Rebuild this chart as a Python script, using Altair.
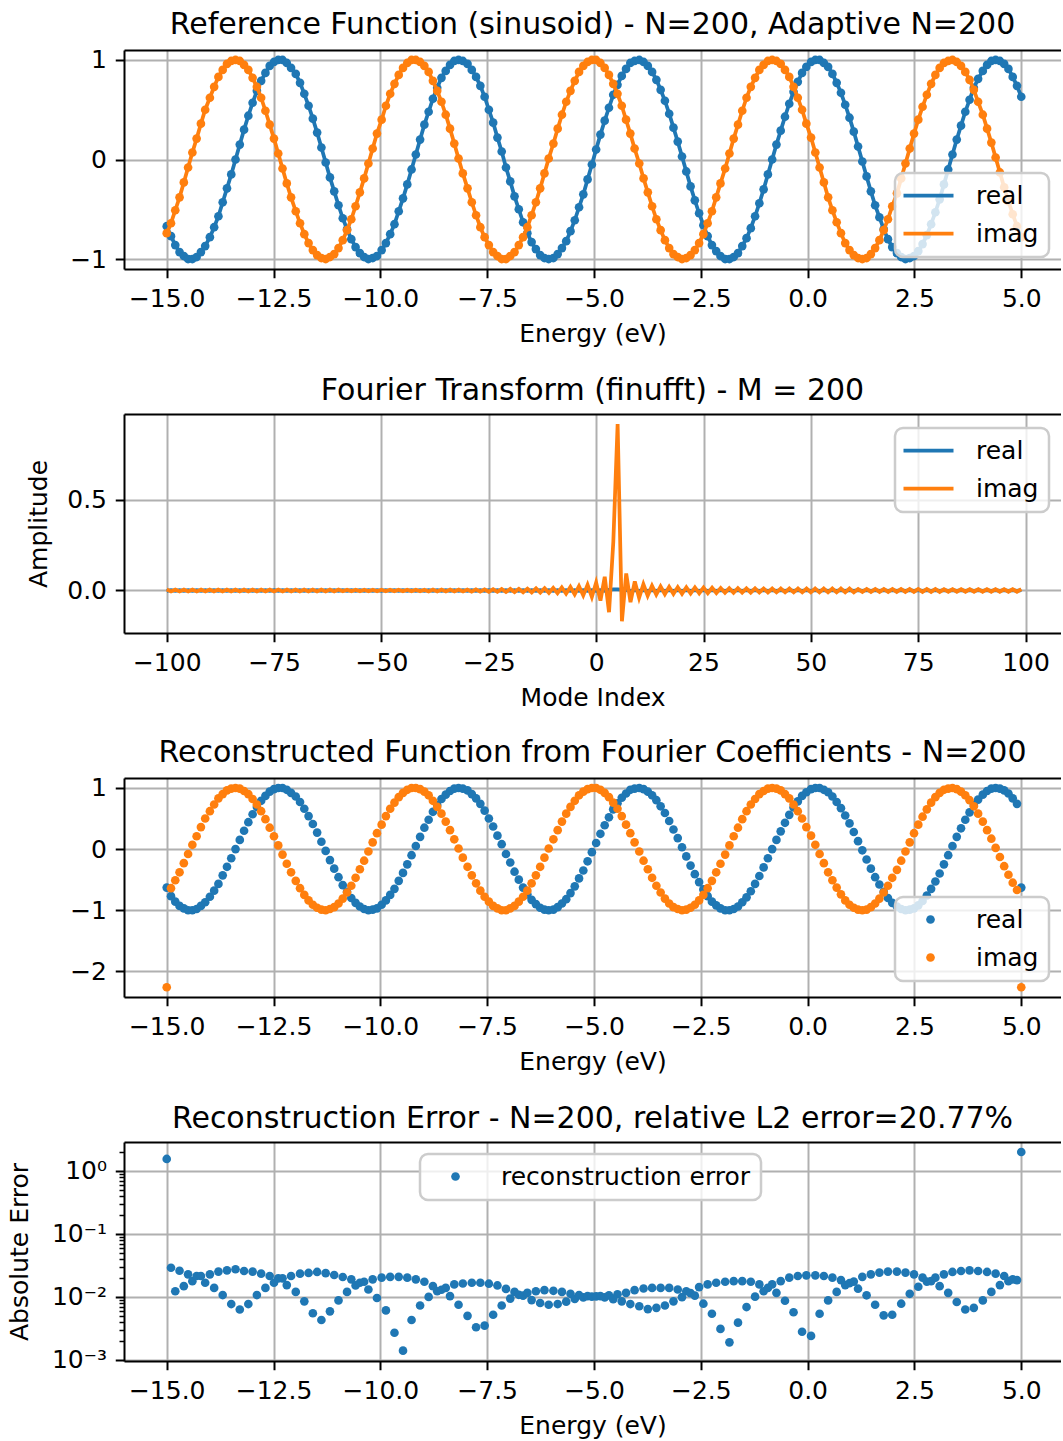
import altair as alt
import pandas as pd

FONT = "DejaVu Sans"
BLUE = "#1f77b4"
ORANGE = "#ff7f0e"

# ---------------- data ----------------
ENERGY = [
    -15.00, -14.90, -14.80, -14.70, -14.60, -14.50, -14.40, -14.30, -14.20, -14.10,
    -13.99, -13.89, -13.79, -13.69, -13.59, -13.49, -13.39, -13.29, -13.19, -13.09,
    -12.99, -12.89, -12.79, -12.69, -12.59, -12.49, -12.39, -12.29, -12.19, -12.09,
    -11.98, -11.88, -11.78, -11.68, -11.58, -11.48, -11.38, -11.28, -11.18, -11.08,
    -10.98, -10.88, -10.78, -10.68, -10.58, -10.48, -10.38, -10.28, -10.18, -10.08,
    -9.97, -9.87, -9.77, -9.67, -9.57, -9.47, -9.37, -9.27, -9.17, -9.07,
    -8.97, -8.87, -8.77, -8.67, -8.57, -8.47, -8.37, -8.27, -8.17, -8.07,
    -7.96, -7.86, -7.76, -7.66, -7.56, -7.46, -7.36, -7.26, -7.16, -7.06,
    -6.96, -6.86, -6.76, -6.66, -6.56, -6.46, -6.36, -6.26, -6.16, -6.06,
    -5.95, -5.85, -5.75, -5.65, -5.55, -5.45, -5.35, -5.25, -5.15, -5.05,
    -4.95, -4.85, -4.75, -4.65, -4.55, -4.45, -4.35, -4.25, -4.15, -4.05,
    -3.94, -3.84, -3.74, -3.64, -3.54, -3.44, -3.34, -3.24, -3.14, -3.04,
    -2.94, -2.84, -2.74, -2.64, -2.54, -2.44, -2.34, -2.24, -2.14, -2.04,
    -1.93, -1.83, -1.73, -1.63, -1.53, -1.43, -1.33, -1.23, -1.13, -1.03,
    -0.93, -0.83, -0.73, -0.63, -0.53, -0.43, -0.33, -0.23, -0.13, -0.03,
    0.08, 0.18, 0.28, 0.38, 0.48, 0.58, 0.68, 0.78, 0.88, 0.98,
    1.08, 1.18, 1.28, 1.38, 1.48, 1.58, 1.68, 1.78, 1.88, 1.98,
    2.09, 2.19, 2.29, 2.39, 2.49, 2.59, 2.69, 2.79, 2.89, 2.99,
    3.09, 3.19, 3.29, 3.39, 3.49, 3.59, 3.69, 3.79, 3.89, 3.99,
    4.10, 4.20, 4.30, 4.40, 4.50, 4.60, 4.70, 4.80, 4.90, 5.00,
]

REF_REAL = [
    -0.67, -0.77, -0.86, -0.93, -0.97, -1.00, -1.00, -0.98, -0.93, -0.87,
    -0.78, -0.68, -0.57, -0.43, -0.29, -0.15, 0.00, 0.15, 0.30, 0.44,
    0.57, 0.69, 0.79, 0.87, 0.94, 0.98, 1.00, 1.00, 0.97, 0.92,
    0.86, 0.77, 0.66, 0.54, 0.41, 0.27, 0.12, -0.03, -0.18, -0.32,
    -0.46, -0.59, -0.70, -0.80, -0.88, -0.94, -0.98, -1.00, -0.99, -0.97,
    -0.91, -0.84, -0.75, -0.65, -0.52, -0.39, -0.25, -0.10, 0.05, 0.20,
    0.35, 0.48, 0.61, 0.72, 0.82, 0.89, 0.95, 0.99, 1.00, 0.99,
    0.96, 0.90, 0.83, 0.74, 0.63, 0.50, 0.37, 0.22, 0.08, -0.08,
    -0.22, -0.37, -0.50, -0.63, -0.74, -0.83, -0.90, -0.96, -0.99, -1.00,
    -0.99, -0.95, -0.89, -0.82, -0.72, -0.61, -0.48, -0.35, -0.20, -0.05,
    0.10, 0.25, 0.39, 0.52, 0.65, 0.75, 0.84, 0.91, 0.97, 0.99,
    1.00, 0.98, 0.94, 0.88, 0.80, 0.70, 0.59, 0.46, 0.32, 0.18,
    0.03, -0.12, -0.27, -0.41, -0.54, -0.66, -0.77, -0.86, -0.92, -0.97,
    -1.00, -1.00, -0.98, -0.94, -0.87, -0.79, -0.69, -0.57, -0.44, -0.30,
    -0.15, 0.00, 0.15, 0.29, 0.43, 0.56, 0.68, 0.78, 0.87, 0.93,
    0.98, 1.00, 1.00, 0.97, 0.93, 0.86, 0.77, 0.67, 0.55, 0.42,
    0.28, 0.13, -0.02, -0.17, -0.32, -0.46, -0.58, -0.70, -0.80, -0.88,
    -0.94, -0.98, -1.00, -0.99, -0.97, -0.92, -0.85, -0.76, -0.65, -0.53,
    -0.40, -0.25, -0.10, 0.05, 0.20, 0.34, 0.48, 0.60, 0.72, 0.81,
    0.89, 0.95, 0.99, 1.00, 0.99, 0.96, 0.91, 0.83, 0.74, 0.63,
]

REF_IMAG = [
    -0.74, -0.64, -0.51, -0.38, -0.23, -0.08, 0.07, 0.21, 0.36, 0.50,
    0.62, 0.73, 0.83, 0.90, 0.96, 0.99, 1.00, 0.99, 0.95, 0.90,
    0.82, 0.73, 0.62, 0.49, 0.35, 0.21, 0.06, -0.09, -0.24, -0.38,
    -0.52, -0.64, -0.75, -0.84, -0.91, -0.96, -0.99, -1.00, -0.98, -0.95,
    -0.89, -0.81, -0.71, -0.60, -0.47, -0.33, -0.19, -0.04, 0.11, 0.26,
    0.40, 0.54, 0.66, 0.76, 0.85, 0.92, 0.97, 1.00, 1.00, 0.98,
    0.94, 0.88, 0.79, 0.69, 0.58, 0.45, 0.31, 0.16, 0.01, -0.14,
    -0.29, -0.43, -0.56, -0.68, -0.78, -0.86, -0.93, -0.97, -1.00, -1.00,
    -0.97, -0.93, -0.86, -0.78, -0.68, -0.56, -0.43, -0.29, -0.14, 0.01,
    0.16, 0.31, 0.45, 0.58, 0.69, 0.79, 0.88, 0.94, 0.98, 1.00,
    1.00, 0.97, 0.92, 0.85, 0.76, 0.66, 0.54, 0.40, 0.26, 0.11,
    -0.04, -0.19, -0.33, -0.47, -0.60, -0.71, -0.81, -0.89, -0.95, -0.98,
    -1.00, -0.99, -0.96, -0.91, -0.84, -0.75, -0.64, -0.52, -0.38, -0.24,
    -0.09, 0.06, 0.21, 0.35, 0.49, 0.62, 0.73, 0.82, 0.90, 0.95,
    0.99, 1.00, 0.99, 0.96, 0.90, 0.83, 0.73, 0.62, 0.50, 0.36,
    0.22, 0.07, -0.08, -0.23, -0.38, -0.51, -0.63, -0.74, -0.84, -0.91,
    -0.96, -0.99, -1.00, -0.99, -0.95, -0.89, -0.81, -0.71, -0.60, -0.47,
    -0.34, -0.19, -0.04, 0.11, 0.26, 0.40, 0.53, 0.65, 0.76, 0.85,
    0.92, 0.97, 0.99, 1.00, 0.98, 0.94, 0.88, 0.80, 0.70, 0.58,
    0.45, 0.31, 0.17, 0.02, -0.13, -0.28, -0.42, -0.55, -0.67, -0.78,
]

# reconstruction: same as the reference inside, wrong at both (periodic) ends
REC_REAL_ENDS = [-0.63, -0.63]
REC_IMAG_ENDS = [-2.26, -2.26]

MODE = [
    -100, -99, -98, -97, -96, -95, -94, -93, -92, -91, -90, -89, -88, -87, -86, -85, -84, -83, -82, -81,
    -80, -79, -78, -77, -76, -75, -74, -73, -72, -71, -70, -69, -68, -67, -66, -65, -64, -63, -62, -61,
    -60, -59, -58, -57, -56, -55, -54, -53, -52, -51, -50, -49, -48, -47, -46, -45, -44, -43, -42, -41,
    -40, -39, -38, -37, -36, -35, -34, -33, -32, -31, -30, -29, -28, -27, -26, -25, -24, -23, -22, -21,
    -20, -19, -18, -17, -16, -15, -14, -13, -12, -11, -10, -9, -8, -7, -6, -5, -4, -3, -2, -1,
    0, 1, 2, 3, 4, 5, 6, 7, 8, 9, 10, 11, 12, 13, 14, 15, 16, 17, 18, 19,
    20, 21, 22, 23, 24, 25, 26, 27, 28, 29, 30, 31, 32, 33, 34, 35, 36, 37, 38, 39,
    40, 41, 42, 43, 44, 45, 46, 47, 48, 49, 50, 51, 52, 53, 54, 55, 56, 57, 58, 59,
    60, 61, 62, 63, 64, 65, 66, 67, 68, 69, 70, 71, 72, 73, 74, 75, 76, 77, 78, 79,
    80, 81, 82, 83, 84, 85, 86, 87, 88, 89, 90, 91, 92, 93, 94, 95, 96, 97, 98, 99,
]

FT_IMAG = [
    0.005, -0.005, 0.005, -0.005, 0.005, -0.005, 0.005, -0.005, 0.005, -0.005,
    0.005, -0.005, 0.005, -0.005, 0.005, -0.005, 0.005, -0.005, 0.005, -0.005,
    0.005, -0.005, 0.005, -0.005, 0.005, -0.005, 0.005, -0.005, 0.005, -0.005,
    0.005, -0.005, 0.005, -0.005, 0.005, -0.005, 0.005, -0.005, 0.005, -0.005,
    0.005,
    -0.0045, 0.0045, -0.0045, 0.0045, -0.0045, 0.0045, -0.0045, 0.0045, -0.0045, 0.0045,
    -0.0045, 0.0045, -0.0045, 0.0045, -0.0045, 0.0045, -0.0045, 0.0045, -0.0045, 0.0045,
    -0.005, 0.005, -0.005, 0.005, -0.005, 0.005, -0.005, 0.005, -0.005, 0.005,
    -0.0062, 0.0062, -0.0062, 0.0062,
    -0.0070, 0.0073, -0.0076, 0.0079, -0.0082, 0.0085, -0.0089, 0.0092, -0.0097, 0.0101,
    -0.0106, 0.0112, -0.0118, 0.0125, -0.0133, 0.0142, -0.0153, 0.0165, -0.0179, 0.0195,
    -0.0215, 0.024, -0.027, 0.031, -0.036, 0.044, -0.056, 0.076, -0.12, 0.27,
    0.92, -0.17, 0.094, -0.065, 0.050, -0.040, 0.034, -0.029, 0.026, -0.023,
    0.022, -0.021, 0.020, -0.019, 0.0185, -0.018, 0.0175, -0.017, 0.0165, -0.016,
    0.016, -0.0152, 0.0146, -0.014, 0.0135, -0.013, 0.0128, -0.0125, 0.0122, -0.012,
    0.0118, -0.0116, 0.0114, -0.0112, 0.011, -0.011, 0.0105, -0.0105, 0.0105, -0.0105,
    0.0105, -0.0105, 0.0105, -0.0105, 0.0105, -0.0105, 0.0105, -0.0105, 0.0105, -0.0105,
    0.0105, -0.0105, 0.0105, -0.0105, 0.0105, -0.0105,
    0.008, -0.008, 0.008, -0.008, 0.008, -0.008, 0.008, -0.008, 0.008, -0.008,
    0.008, -0.008, 0.008, -0.008, 0.008, -0.008, 0.008, -0.008, 0.008, -0.008,
    0.007, -0.007, 0.007, -0.007, 0.007, -0.007, 0.007, -0.007, 0.007, -0.007,
    0.007, -0.007, 0.007, -0.007, 0.007, -0.007, 0.007, -0.007, 0.007,
]

FT_REAL = [
    -0.002, 0.002, -0.002, 0.002, -0.002, 0.002, -0.002, 0.002, -0.002, 0.002,
    -0.002, 0.002, -0.002, 0.002, -0.002, 0.002, -0.002, 0.002, -0.002, 0.002,
    -0.002, 0.002, -0.002, 0.002, -0.002, 0.002, -0.002, 0.002, -0.002, 0.002,
    -0.002, 0.002, -0.002, 0.002, -0.002, 0.002, -0.002, 0.002, -0.002, 0.002,
    -0.002, 0.002, -0.002, 0.002, -0.002, 0.002, -0.002, 0.002, -0.002, 0.002,
    -0.002, 0.002, -0.002, 0.002, -0.002, 0.002, -0.002, 0.002, -0.002, 0.002,
    -0.002, 0.002, -0.002, 0.002, -0.002, 0.002, -0.002, 0.002, -0.002, 0.002,
    -0.002, 0.002, -0.002, 0.002, -0.002, 0.002, -0.002, 0.002, -0.002, 0.002,
    -0.002, 0.002, -0.002, 0.002, -0.002, 0.002, -0.002, 0.002, -0.002, 0.002,
    -0.002, 0.002, -0.002, 0.002, -0.002, 0.002, -0.002, 0.002, -0.002, 0.002,
    -0.002, 0.002, -0.002, 0.004, 0.006, 0.006, 0.004, 0.002, -0.002, 0.002,
    -0.002, 0.002, -0.002, 0.002, -0.002, 0.002, -0.002, 0.002, -0.002, 0.002,
    -0.002, 0.002, -0.002, 0.002, -0.002, 0.002, -0.002, 0.002, -0.002, 0.002,
    -0.002, 0.002, -0.002, 0.002, -0.002, 0.002, -0.002, 0.002, -0.002, 0.002,
    -0.002, 0.002, -0.002, 0.002, -0.002, 0.002, -0.002, 0.002, -0.002, 0.002,
    -0.002, 0.002, -0.002, 0.002, -0.002, 0.002, -0.002, 0.002, -0.002, 0.002,
    -0.002, 0.002, -0.002, 0.002, -0.002, 0.002, -0.002, 0.002, -0.002, 0.002,
    -0.002, 0.002, -0.002, 0.002, -0.002, 0.002, -0.002, 0.002, -0.002, 0.002,
    -0.002, 0.002, -0.002, 0.002, -0.002, 0.002, -0.002, 0.002, -0.002, 0.002,
    -0.002, 0.002, -0.002, 0.002, -0.002, 0.002, -0.002, 0.002, -0.002, 0.002,
]

ERROR = [
    1.55, 0.029, 0.0123, 0.026, 0.0148, 0.0228, 0.0178, 0.0215, 0.0215, 0.0168,
    0.0228, 0.0139, 0.0252, 0.0107, 0.0264, 0.0077, 0.0275, 0.0063, 0.0258, 0.0077,
    0.0252, 0.0107, 0.0234, 0.0139, 0.0215, 0.0168, 0.0197, 0.0197, 0.0154, 0.0215,
    0.012, 0.0234, 0.0085, 0.024, 0.0055, 0.0249, 0.0043, 0.0238, 0.0059, 0.0223,
    0.0088, 0.0207, 0.012, 0.019, 0.0152, 0.0168, 0.0174, 0.0131, 0.019, 0.0096,
    0.0202, 0.0061, 0.0208, 0.0027, 0.0208, 0.0014, 0.0202, 0.0043, 0.019, 0.0073,
    0.0174, 0.01, 0.0148, 0.0123, 0.013, 0.0139, 0.0103, 0.0158, 0.0075, 0.0163,
    0.005, 0.0168, 0.0033, 0.0168, 0.0035, 0.0162, 0.0052, 0.0152, 0.0073, 0.0134,
    0.0094, 0.012, 0.0108, 0.0105, 0.0116, 0.0089, 0.0123, 0.008, 0.0128, 0.0075,
    0.0125, 0.0077, 0.012, 0.0084, 0.0112, 0.0093, 0.0107, 0.0098, 0.0103, 0.0101,
    0.0102, 0.0103, 0.0098, 0.0106, 0.0092, 0.011, 0.0085, 0.0116, 0.0077, 0.0128,
    0.0071, 0.0136, 0.0064, 0.0139, 0.0067, 0.0139, 0.0073, 0.0139, 0.0085, 0.0131,
    0.0099, 0.0123, 0.0115, 0.0105, 0.0143, 0.0078, 0.0158, 0.0054, 0.0168, 0.0031,
    0.0174, 0.0019, 0.0178, 0.0039, 0.0178, 0.0069, 0.0174, 0.0101, 0.0158, 0.0123,
    0.0139, 0.0158, 0.0116, 0.0178, 0.0087, 0.0202, 0.0057, 0.0215, 0.0028, 0.022,
    0.0024, 0.022, 0.0054, 0.0215, 0.0088, 0.0202, 0.012, 0.0185, 0.0154, 0.0165,
    0.0175, 0.0135, 0.0208, 0.0106, 0.0228, 0.0075, 0.0243, 0.0051, 0.0252, 0.0052,
    0.0252, 0.0078, 0.0243, 0.0112, 0.0228, 0.0145, 0.0202, 0.0175, 0.0178, 0.0202,
    0.0148, 0.0228, 0.0116, 0.0249, 0.0083, 0.0258, 0.0063, 0.0264, 0.0067, 0.0258,
    0.0088, 0.0249, 0.012, 0.0234, 0.0154, 0.0215, 0.0178, 0.019, 0.0185, 2.0,
]

E_TICKS = [-15, -12.5, -10, -7.5, -5, -2.5, 0, 2.5, 5]
MODE_TICKS = [-100, -75, -50, -25, 0, 25, 50, 75, 100]
LOG_TICKS = [0.001, 0.01, 0.1, 1]
LOG_MINOR = [0.002, 0.003, 0.004, 0.005, 0.006, 0.007, 0.008, 0.009,
             0.02, 0.03, 0.04, 0.05, 0.06, 0.07, 0.08, 0.09,
             0.2, 0.3, 0.4, 0.5, 0.6, 0.7, 0.8, 0.9, 2]

TITLES = [
    "Reference Function (sinusoid) - N=200, Adaptive N=200",
    "Fourier Transform (finufft) - M = 200",
    "Reconstructed Function from Fourier Coefficients - N=200",
    "Reconstruction Error - N=200, relative L2 error=20.77%",
]

# ---------------- tables ----------------
N = min(len(ENERGY), len(REF_REAL), len(REF_IMAG), len(ERROR))
E = ENERGY[:N]
rr = REF_REAL[:N]
ri = REF_IMAG[:N]
rec_r = [REC_REAL_ENDS[0]] + rr[1:N - 1] + [REC_REAL_ENDS[1]]
rec_i = [REC_IMAG_ENDS[0]] + ri[1:N - 1] + [REC_IMAG_ENDS[1]]

df_ref = pd.DataFrame({"E": E + E, "value": rr + ri, "series": ["real"] * N + ["imag"] * N})
df_rec = pd.DataFrame({"E": E + E, "value": rec_r + rec_i, "series": ["real"] * N + ["imag"] * N})
M = min(len(MODE), len(FT_REAL), len(FT_IMAG))
df_ft = pd.DataFrame({"k": MODE[:M] + MODE[:M], "value": FT_REAL[:M] + FT_IMAG[:M],
                      "series": ["real"] * M + ["imag"] * M})
df_err = pd.DataFrame({"E": E, "err": ERROR[:N], "series": ["reconstruction error"] * N})
df_minor = pd.DataFrame({"v": LOG_MINOR})

# ---------------- helpers ----------------
W, H = 937, 219
DOT = 75
MINUS = "\u2212"
C_SCALE = alt.Scale(domain=["real", "imag"], range=[BLUE, ORANGE])
E_SCALE = alt.Scale(domain=[-16, 5.93], nice=False, zero=False)
K_SCALE = alt.Scale(domain=[-109.95, 108.25], nice=False, zero=False)


def fmt(spec):
    return "replace(format(datum.value, '" + spec + "'), '-', '" + MINUS + "')"


def x_energy():
    return alt.X("E:Q", scale=E_SCALE,
                 axis=alt.Axis(values=E_TICKS, labelExpr=fmt(".1f"), title="Energy (eV)",
                               orient="bottom"))


def top_spine(df, field, scale):
    # invisible layer that only carries a label-less top axis (the upper frame line)
    return alt.Chart(df).mark_point(opacity=0).encode(
        x=alt.X(field, scale=scale,
                axis=alt.Axis(orient="top", labels=False, ticks=False, grid=False,
                              domain=True, title=None)))


def legend(lx, ly, stroke):
    kw = dict(title=None, orient="none", legendX=lx, legendY=ly,
              rowPadding=12, padding=10)
    if stroke:
        kw.update(symbolType="M-5,0H5", symbolSize=100, symbolStrokeWidth=3.75,
                  symbolOffset=11, labelOffset=35)
    else:
        kw.update(symbolType="circle", symbolSize=DOT, symbolOffset=13, labelOffset=33)
    return alt.Legend(**kw)


def framed(inner, df, field, scale):
    return alt.layer(inner, top_spine(df, field, scale)).resolve_axis(x="independent")


# ---------------- panel 1 ----------------
y1 = alt.Y("value:Q", scale=alt.Scale(domain=[-1.1, 1.1], nice=False),
           axis=alt.Axis(values=[-1, 0, 1], labelExpr=fmt("d"), title=None))
layers1 = []
for s in ["real", "imag"]:
    b = alt.Chart(df_ref).transform_filter(alt.datum.series == s)
    leg = legend(771, 123, True) if s == "real" else None
    layers1.append(b.mark_line(strokeWidth=3.75).encode(
        x=x_energy(), y=y1, color=alt.Color("series:N", scale=C_SCALE, legend=leg)))
    layers1.append(b.mark_circle(size=DOT, opacity=1).encode(
        x=x_energy(), y=y1, color=alt.Color("series:N", scale=C_SCALE, legend=None)))
p1 = framed(alt.layer(*layers1), df_ref, "E:Q", E_SCALE).properties(
    width=W, height=H, title=TITLES[0])

# ---------------- panel 2 ----------------
x2 = alt.X("k:Q", scale=K_SCALE,
           axis=alt.Axis(values=MODE_TICKS, labelExpr=fmt("d"), title="Mode Index", orient="bottom"))
y2 = alt.Y("value:Q", scale=alt.Scale(domain=[-0.235, 0.975], nice=False),
           axis=alt.Axis(values=[0, 0.5], labelExpr=fmt(".1f"), title="Amplitude", titlePadding=15))
layers2 = []
for s in ["real", "imag"]:
    b = alt.Chart(df_ft).transform_filter(alt.datum.series == s)
    leg = legend(771, 14, True) if s == "real" else None
    layers2.append(b.mark_line(strokeWidth=3.75).encode(
        x=x2, y=y2, color=alt.Color("series:N", scale=C_SCALE, legend=leg)))
p2 = framed(alt.layer(*layers2), df_ft, "k:Q", K_SCALE).properties(
    width=W, height=H, title=TITLES[1])

# ---------------- panel 3 ----------------
y3 = alt.Y("value:Q", scale=alt.Scale(domain=[-2.42, 1.163], nice=False),
           axis=alt.Axis(values=[-2, -1, 0, 1], labelExpr=fmt("d"), title=None))
layers3 = []
for s in ["real", "imag"]:
    b = alt.Chart(df_rec).transform_filter(alt.datum.series == s)
    leg = legend(771, 119, False) if s == "real" else None
    layers3.append(b.mark_circle(size=DOT, opacity=1).encode(
        x=x_energy(), y=y3, color=alt.Color("series:N", scale=C_SCALE, legend=leg)))
p3 = framed(alt.layer(*layers3), df_rec, "E:Q", E_SCALE).properties(
    width=W, height=H, title=TITLES[2])

# ---------------- panel 4 ----------------
log_scale = alt.Scale(type="log", domain=[0.00096, 2.88], nice=False)
log_label = ("datum.value > 0.5 ? '10\u2070' : datum.value > 0.05 ? '10\u207b\u00b9' : "
             "datum.value > 0.005 ? '10\u207b\u00b2' : '10\u207b\u00b3'")
pts4 = alt.Chart(df_err).mark_circle(size=DOT, opacity=1).encode(
    x=x_energy(),
    y=alt.Y("err:Q", scale=log_scale,
            axis=alt.Axis(values=LOG_TICKS, labelExpr=log_label, title="Absolute Error",
                          titlePadding=19, orient="left")),
    color=alt.Color("series:N", scale=alt.Scale(domain=["reconstruction error"], range=[BLUE]),
                    legend=legend(296, 12, False)),
)
minor4 = alt.Chart(df_minor).mark_point(opacity=0).encode(
    y=alt.Y("v:Q", scale=log_scale,
            axis=alt.Axis(values=LOG_MINOR, orient="left", labels=False, grid=False, domain=False,
                          tickSize=5, tickWidth=1.5, title=None)),
)
inner4 = alt.layer(pts4, minor4).resolve_axis(y="independent")
p4 = framed(inner4, df_err, "E:Q", E_SCALE).properties(width=W, height=H, title=TITLES[3])

chart = alt.vconcat(p1, p2, p3, p4, spacing=145, bounds="flush").resolve_scale(
    x="independent", y="independent", color="independent"
).resolve_legend(color="independent").properties(
    padding={"left": 7, "top": 9, "right": 0, "bottom": 0}
).configure_view(
    stroke=None
).configure_axis(
    labelFont=FONT, labelFontSize=25, labelColor="black",
    titleFont=FONT, titleFontSize=25, titleFontWeight="normal", titleColor="black",
    tickColor="black", tickWidth=2, tickSize=8.75, labelPadding=8.75,
    domain=True, domainColor="black", domainWidth=2,
    grid=True, gridColor="#b0b0b0", gridWidth=2, titlePadding=10,
    labelFlush=False, labelOverlap=False,
).configure_title(
    font=FONT, fontSize=30, fontWeight="normal", color="black", anchor="middle",
    frame="group", offset=8, baseline="alphabetic",
).configure_legend(
    labelFont=FONT, labelFontSize=25, labelColor="black", labelLimit=600,
    fillColor="rgba(255,255,255,0.8)", strokeColor="#cccccc", strokeWidth=2.5, cornerRadius=8,
)

chart.save("out.html", embed_options={"renderer": "svg", "actions": False})
